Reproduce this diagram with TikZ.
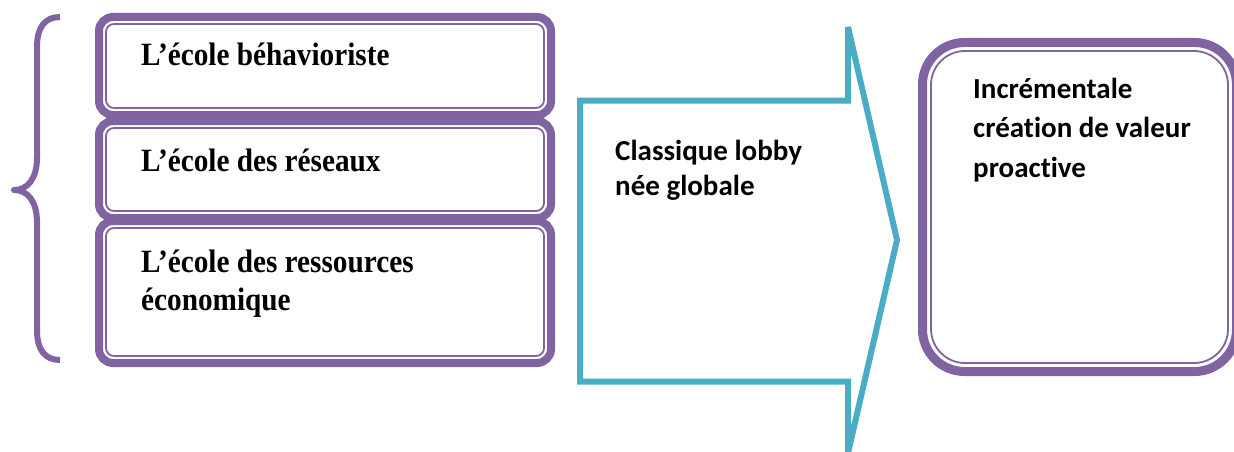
\documentclass[tikz,border=0pt]{standalone}
\usepackage{fontspec}
\newfontfamily\boxserif[FakeStretch=0.9]{Liberation Serif}
\newfontfamily\boxsans[Ligatures=NoCommon]{Carlito}
\definecolor{schoolpurple}{HTML}{8064A2}
\definecolor{arrowteal}{HTML}{4BACC6}
% left-aligned lines with a fixed baseline distance; the baseline is the first line's
\newcommand\linestack[2]{\vtop{\baselineskip=#1\relax\lineskiplimit=-100pt\halign{##\hfil\cr#2\crcr}}}
\tikzset{
  band/.style={draw=schoolpurple, line width=8pt, fill=white, rounded corners=14pt},
  rim/.style={draw=schoolpurple, line width=1.8pt, rounded corners=8pt},
  schooltext/.style={anchor=base west, inner sep=0pt,
    font=\boxserif\bfseries\fontsize{32.5}{38}\selectfont},
  labeltext/.style={anchor=base west, inner sep=0pt,
    font=\boxsans\bfseries\fontsize{29}{35}\selectfont},
}
\begin{document}
\begin{tikzpicture}[x=1pt,y=-1pt]
\useasboundingbox (0,0) rectangle (1234,452);
\fill[white] (0,0) rectangle (1234,452);

% curly brace grouping the three schools
\draw[schoolpurple, line width=6pt, line join=round]
  (60,17) .. controls (45,17) and (37,27) .. (37,47) -- (37,158)
  .. controls (37,178) and (28,190) .. (14,190)
  .. controls (28,190) and (37,202) .. (37,222) -- (37,330)
  .. controls (37,350) and (45,360) .. (60,360);

% stacked school boxes: thick outer band with a thin inner rim
\draw[band] (99,17) rectangle (551,115);
\draw[rim] (106,24) rectangle (544,108);
\draw[band] (99,121) rectangle (551,218);
\draw[rim] (106,128) rectangle (544,211);
\draw[band] (99,221) rectangle (551,363);
\draw[rim] (106,228) rectangle (544,356);

\node[schooltext] (behav) at (141,66) {L’école béhavioriste};
\node[schooltext] (reseaux) at (141,171.5) {L’école des réseaux};
\node[schooltext] (ressources) at (141,272)
  {\linestack{38pt}{L’école des ressources\cr économique}};

% block arrow
\draw[arrowteal, line width=6pt, miter limit=2]
  (580,100.5) -- (848,100.5) -- (848,27) -- (897,240) -- (848,453)
  -- (848,381.5) -- (580,381.5) -- cycle;
\node[labeltext] (classique) at (615,160)
  {\linestack{35pt}{Classique lobby\cr née globale}};

% result box, running slightly past the right edge
\draw[draw=schoolpurple, line width=9pt, fill=white, rounded corners=42pt]
  (922.5,42.5) rectangle (1236.5,371.5);
\draw[rim, rounded corners=34pt] (931,51) rectangle (1228,363);
\node[labeltext] (increment) at (973,98)
  {\linestack{39.5pt}{Incrémentale\cr création de valeur\cr proactive}};
\end{tikzpicture}
\end{document}
